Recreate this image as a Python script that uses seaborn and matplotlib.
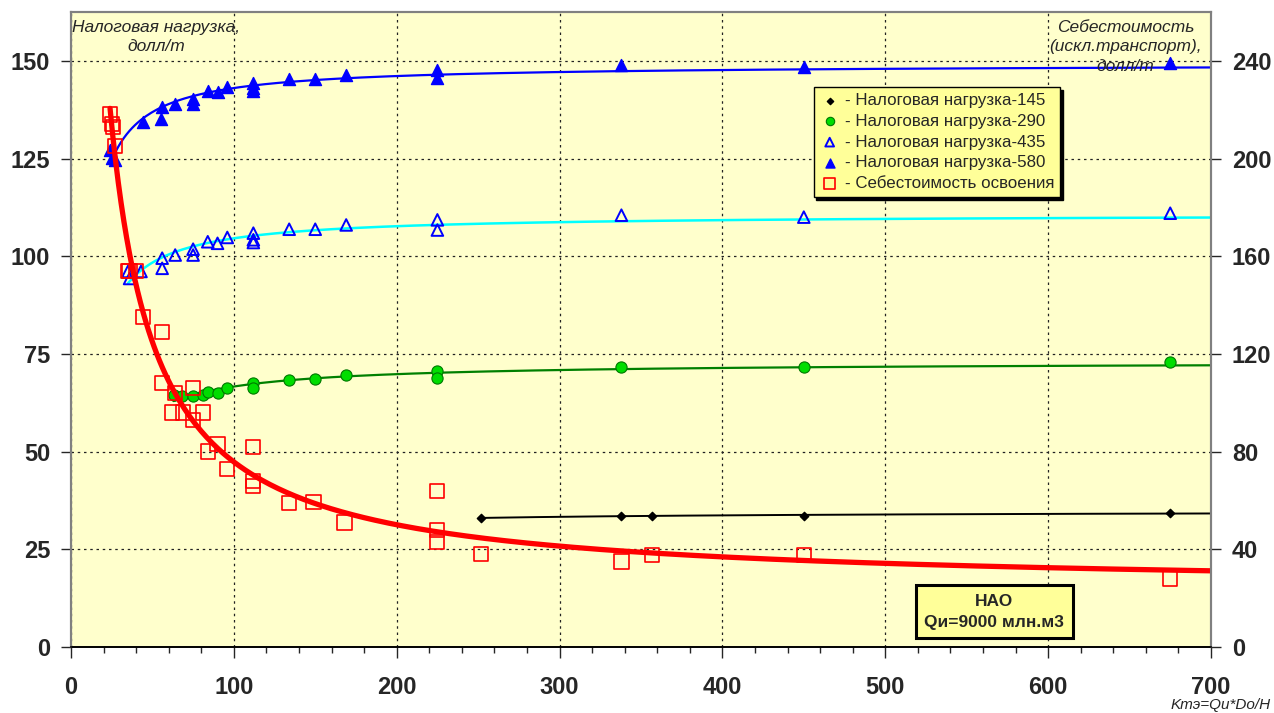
"""
Налоговая нагрузка и себестоимость освоения в зависимости от Kтэ (НАО)
"""

import numpy as np
import pandas as pd
import matplotlib
matplotlib.use("Agg")
import matplotlib.pyplot as plt
import seaborn as sns

# ---- data ----
# tax load series (left axis, долл/т)
x_145 = [252, 338, 357, 450, 675]
y_145 = [33.1, 33.5, 33.5, 33.6, 34.3]

x_290 = [63, 68, 75, 81, 84, 90, 96, 112, 112, 134, 150, 169, 225, 225, 338, 450, 675]
y_290 = [64.5, 64.1, 64.2, 64.5, 65.3, 65.1, 66.4, 67.5, 66.4, 68.3, 68.5, 69.5,
         70.6, 68.8, 71.7, 71.7, 73.0]

x_435 = [35, 36, 43, 56, 56, 64, 75, 75, 84, 90, 96, 112, 112, 112, 134, 150, 169,
         225, 225, 338, 450, 675]
y_435 = [96.1, 94.3, 96.1, 99.5, 96.9, 100.3, 101.8, 100.3, 103.7, 103.3, 104.8,
         105.9, 104.2, 103.5, 106.9, 106.9, 108.0, 109.3, 106.7, 110.5, 110.0, 111.0]

x_580 = [24, 25, 27, 44, 56, 55, 64, 75, 75, 84, 90, 96, 112, 112, 112, 134, 150,
         169, 225, 225, 338, 450, 675]
y_580 = [127.2, 125.1, 124.6, 134.3, 138.1, 135.1, 139.0, 140.2, 139.0, 142.3, 142.0,
         143.4, 144.3, 143.0, 142.2, 145.4, 145.4, 146.5, 147.7, 145.5, 149.0, 148.5, 149.4]

# development cost (right axis, долл/т)
x_cost = [24, 25, 26, 27, 35, 36, 40, 44, 56, 56, 62, 64, 69, 75, 75, 81, 84, 90,
          96, 112, 112, 112, 134, 149, 168, 225, 225, 225, 252, 338, 357, 450, 675]
y_cost = [218, 214, 213, 205, 154, 154, 154, 135, 129, 108, 96, 104, 96, 106, 93,
          96, 80, 83, 73, 82, 68, 66, 59, 59.5, 51, 64, 48, 43, 38, 35, 37.6, 37.6, 28]

legend_labels = ["- Налоговая нагрузка-145", "- Налоговая нагрузка-290",
                 "- Налоговая нагрузка-435", "- Налоговая нагрузка-580",
                 "- Себестоимость освоения"]

x_ticks = list(range(0, 701, 100))
left_ticks = list(range(0, 151, 25))
right_ticks = list(range(0, 241, 40))


def trend(xs, ys, deg=1, x_end=700):
    # hyperbolic trend y = a + b/x (+ c/x^2), fitted to the points
    coef = np.polyfit(1.0 / np.asarray(xs, float), np.asarray(ys, float), deg)
    xx = np.linspace(min(xs), x_end, 400)
    return pd.DataFrame({"x": xx, "y": np.polyval(coef, 1.0 / xx)})


sns.set_style("white")
plt.rcParams["font.family"] = ["Liberation Sans", "DejaVu Sans"]

fig = plt.figure(figsize=(12.74, 7.13), dpi=100)
ax = fig.add_axes([0.0557, 0.0926, 0.8948, 0.8906])
ax.set_facecolor("#FFFFCC")
ax2 = ax.twinx()

# trend lines
sns.lineplot(data=trend(x_145, y_145), x="x", y="y", ax=ax, color="black", lw=1.4,
             legend=False)
sns.lineplot(data=trend(x_290, y_290), x="x", y="y", ax=ax, color="#008000", lw=1.6,
             legend=False)
sns.lineplot(data=trend(x_435, y_435), x="x", y="y", ax=ax, color="#00FFFF", lw=1.8,
             legend=False)
sns.lineplot(data=trend(x_580, y_580), x="x", y="y", ax=ax, color="#0000FF", lw=1.6,
             legend=False)

# points
ax.scatter(x_145, y_145, marker="D", s=18, color="black", zorder=4, label=legend_labels[0])
ax.scatter(x_290, y_290, marker="o", s=65, color="#00DD00", edgecolor="#007700",
           linewidth=0.8, zorder=4, label=legend_labels[1])
ax.scatter(x_435, y_435, marker="^", s=70, facecolor="none", edgecolor="#0000FF",
           linewidth=1.4, zorder=4, label=legend_labels[2])
ax.scatter(x_580, y_580, marker="^", s=75, color="#0000FF", zorder=4,
           label=legend_labels[3])

sns.lineplot(data=trend(x_cost, y_cost, deg=2), x="x", y="y", ax=ax2, color="#FF0000",
             lw=3.8, legend=False)
ax2.scatter(x_cost, y_cost, marker="s", s=105, facecolor="none", edgecolor="#FF0000",
            linewidth=1.2, zorder=4, label=legend_labels[4])

# axes
ax.set_xlim(0, 700)
ax.set_ylim(0, 162.5)
ax2.set_ylim(0, 260)
ax.set_xticks(x_ticks)
ax.set_xticks(range(0, 701, 20), minor=True)
ax.set_yticks(left_ticks)
ax2.set_yticks(right_ticks)
ax.set_xlabel("")
ax.set_ylabel("")
ax2.set_ylabel("")
ax.tick_params(axis="x", which="major", direction="out", length=8, width=1,
               labelsize=17, pad=13, bottom=True)
ax.tick_params(axis="x", which="minor", direction="out", length=4, width=1, bottom=True)
ax.tick_params(axis="y", direction="out", length=7, width=1, labelsize=17, pad=8, left=True)
ax2.tick_params(axis="y", direction="out", length=7, width=1, labelsize=17, pad=8, right=True)
for lbl in ax.get_xticklabels() + ax.get_yticklabels() + ax2.get_yticklabels():
    lbl.set_fontweight("bold")

ax.grid(True, which="major", color="#222222", linestyle=(0, (2, 3)), lw=0.9)
for a in (ax, ax2):
    for side in ("left", "right", "top"):
        a.spines[side].set_color("#808080")
        a.spines[side].set_linewidth(1.5)
    a.spines["bottom"].set_color("black")
    a.spines["bottom"].set_linewidth(1.2)

# axis titles inside the plot
ax.text(0.075, 0.988, "Налоговая нагрузка,\nдолл/т", transform=ax.transAxes,
        ha="center", va="top", fontsize=12.5, style="italic", linespacing=1.4)
ax2.text(0.925, 0.988, "Себестоимость\n(искл.транспорт),\nдолл/т", transform=ax.transAxes,
         ha="center", va="top", fontsize=12.5, style="italic", linespacing=1.4)
fig.text(0.997, 0.002, "Kтэ=Qи*Do/H", ha="right", va="bottom", fontsize=11,
         style="italic")

# region box
ax2.text(567, 14.5, "НАО\nQи=9000 млн.м3", ha="center", va="center", fontsize=12.5,
         fontweight="bold", linespacing=1.5,
         bbox=dict(boxstyle="square,pad=0.5", facecolor="#FFFF99", edgecolor="black",
                   linewidth=2.2), zorder=6)

# legend
h1, l1 = ax.get_legend_handles_labels()
h2, l2 = ax2.get_legend_handles_labels()
leg = ax2.legend(h1 + h2, l1 + l2, loc="upper left", bbox_to_anchor=(0.644, 0.895),
                 fontsize=12.2, frameon=True, fancybox=False, borderpad=0.35,
                 handletextpad=0.3, handlelength=1.2, labelspacing=0.34,
                 shadow={"color": "black", "alpha": 1.0}, markerscale=0.75)
leg.get_frame().set_facecolor("#FFFF99")
leg.get_frame().set_edgecolor("black")
leg.get_frame().set_linewidth(1.0)
leg.get_frame().set_alpha(1.0)
leg.set_zorder(10)

fig.savefig("out.png", dpi=100)
